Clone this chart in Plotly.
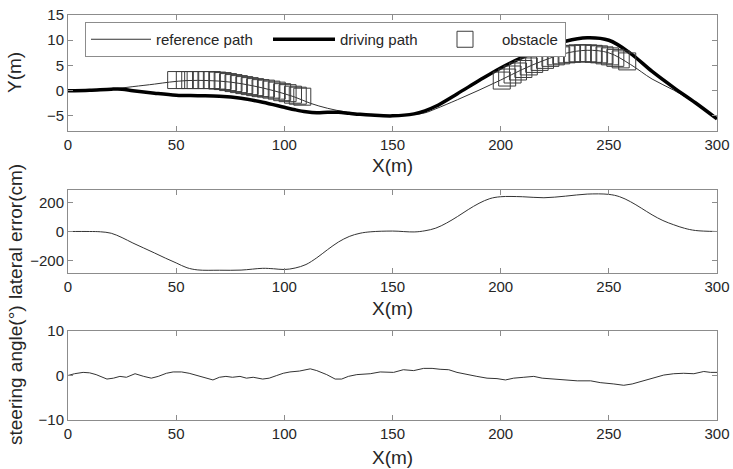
import plotly.graph_objects as go

# ---------------- data ----------------
# top panel: reference path (thin)
ref_x = [0, 10, 20, 30, 40, 47, 55, 65, 75, 85, 95, 105, 112, 120, 128, 135, 140, 150,
         160, 165, 170, 180, 190, 200, 210, 220, 230, 240, 250, 260, 270, 280, 290, 300]
ref_y = [0, 0.1, 0.3, 0.8, 1.3, 1.7, 2.0, 2.0, 1.7, 1.0, 0.0, -1.3, -2.5, -3.5, -4.2, -4.6, -4.8, -5.0,
         -4.7, -4.4, -3.6, -1.8, 0.1, 2.1, 4.2, 6.0, 7.4, 8.0, 7.5, 5.2, 2.3, 0.1, -2.5, -5.6]

# top panel: driving path (thick)
drv_x = [0, 10, 20, 25, 30, 40, 50, 60, 70, 80, 90, 100, 105, 110, 115, 120, 125, 130, 135, 140, 150,
         160, 165, 170, 180, 190, 200, 210, 220, 230, 240, 250, 260, 270, 280, 290, 300]
drv_y = [0, 0.1, 0.3, 0.3, 0.0, -0.5, -0.9, -1.0, -1.1, -1.5, -2.3, -3.3, -3.8, -4.2, -4.4, -4.3, -4.3, -4.5, -4.7, -4.85, -5.0,
         -4.6, -4.0, -3.1, -0.6, 2.0, 4.5, 6.6, 8.3, 9.8, 10.5, 10.0, 7.4, 3.8, 0.6, -2.4, -5.6]

# top panel: obstacle positions (two groups)
obs1_x = [50, 54, 56.5, 59, 61.5, 64, 66.5, 69, 71.5, 74, 76.5, 79, 81.5, 84, 86.5, 89, 91.5, 94,
          96.5, 99, 101.5, 104, 106.2, 108.3]
obs1_y = [2.1, 2.1, 2.1, 2.1, 2.1, 2.1, 2.1, 2.0, 1.9, 1.7, 1.5, 1.3, 1.1, 0.9, 0.7, 0.5, 0.4, 0.2,
          0.0, -0.3, -0.5, -0.8, -1.0, -1.2]
obs2_x = [200.5, 203, 205.5, 208, 210.5, 213, 215.5, 218, 220.5, 223, 225.5, 228, 230.5, 233,
          235.5, 238, 240.5, 243, 245.5, 248, 250.5, 253, 255.5, 258.5]
obs2_y = [2.0, 2.6, 3.2, 3.8, 4.3, 4.8, 5.3, 5.7, 6.1, 6.5, 6.8, 7.0, 7.2, 7.3,
          7.4, 7.4, 7.4, 7.3, 7.2, 7.0, 6.8, 6.5, 6.2, 5.8]

# middle panel: lateral error (cm)
err_x = [0, 10, 15, 20, 25, 30, 35, 40, 45, 50, 55, 60, 70, 80, 90, 95, 100, 105, 110, 115, 120, 125,
         130, 135, 140, 150, 160, 165, 170, 175, 180, 185, 190, 195, 200, 210, 220, 230, 240, 250,
         255, 260, 265, 270, 275, 280, 285, 290, 300]
err_y = [0, 0, -2, -12, -42, -79, -113, -147, -182, -215, -248, -263, -265, -264, -252, -255, -260, -250,
         -226, -180, -124, -72, -34, -12, -2, 3, -3, 5, 23, 58, 102, 150, 193, 225, 238, 238, 231, 242,
         256, 254, 238, 204, 160, 114, 75, 46, 22, 7, 0]

# bottom panel: steering angle (deg)
str_x = [0, 3, 7, 10, 13, 18, 21, 24, 27, 31, 35, 38.5, 41.7, 45.5, 48.6, 52.5, 56, 61, 63, 67, 70,
         73, 76, 79.5, 82.5, 85.6, 90, 93, 96.5, 99.5, 102.6, 107, 112, 115, 119.6, 123.5, 126.5,
         129.6, 133.5, 138, 139.7, 144.3, 150.5, 155, 159.8, 164.4, 168.3, 172, 176, 179.8, 184.5,
         189, 193.7, 198.3, 202.2, 206, 210.7, 215.3, 219.2, 223.8, 229.2, 235.4, 241.6, 246, 252.3,
         256.9, 260.8, 266.2, 270.8, 275.4, 280, 284.6, 289.3, 293.9, 297, 300]
str_y = [0, 0.4, 0.7, 0.6, 0.2, -0.8, -0.6, -0.2, -0.4, 0.4, -0.2, -0.6, -0.2, 0.5, 0.8, 0.8, 0.5,
         -0.2, -0.4, -1.0, -0.4, -0.2, -0.4, -0.2, -0.6, -0.4, -0.8, -0.6, 0.0, 0.5, 0.8, 1.0, 1.5,
         1.1, 0.2, -0.8, -0.8, -0.2, 0.2, 0.4, 0.4, 0.8, 0.7, 1.3, 1.1, 1.6, 1.6, 1.4, 1.3, 0.7, 0.2,
         -0.2, -0.6, -0.7, -1.0, -0.6, -0.4, -0.2, -0.6, -0.8, -1.0, -1.2, -1.2, -1.6, -1.9, -2.2,
         -1.9, -1.2, -0.6, 0.1, 0.4, 0.5, 0.4, 0.9, 0.7, 0.7]

x_ticks = [0, 50, 100, 150, 200, 250, 300]
y1_ticks = [-5, 0, 5, 10, 15]
y2_ticks = [-200, 0, 200]
y3_ticks = [-10, 0, 10]

# ---------------- figure ----------------
FONT = "Liberation Sans, Arial, sans-serif"
W, H = 733, 469
ML, MR, MT, MB = 68, 16, 15, 49
PW, PH = W - ML - MR, H - MT - MB


def px_x(p):  # pixel -> paper x
    return (p - ML) / PW


def px_y(p):  # pixel -> paper y
    return (H - MB - p) / PH


fig = go.Figure()

fig.add_trace(go.Scatter(x=ref_x, y=ref_y, mode="lines", name="reference path", legend="legend",
                         line=dict(color="#333333", width=1, shape="spline"),
                         xaxis="x", yaxis="y"))
fig.add_trace(go.Scatter(x=drv_x, y=drv_y, mode="lines", name="driving path", legend="legend2",
                         line=dict(color="black", width=3.5, shape="spline"),
                         xaxis="x", yaxis="y"))
fig.add_trace(go.Scatter(x=obs1_x + obs2_x, y=obs1_y + obs2_y, mode="markers", name="obstacle",
                         legend="legend3",
                         marker=dict(symbol="square-open", size=17, color="#3c3c3c",
                                     line=dict(width=1, color="#3c3c3c")),
                         xaxis="x", yaxis="y"))
fig.add_trace(go.Scatter(x=err_x, y=err_y, mode="lines", showlegend=False,
                         line=dict(color="#333333", width=1, shape="spline"),
                         xaxis="x2", yaxis="y2"))
fig.add_trace(go.Scatter(x=str_x, y=str_y, mode="lines", showlegend=False,
                         line=dict(color="#333333", width=1),
                         xaxis="x3", yaxis="y3"))

axis_common = dict(showline=True, linecolor="#8c8c8c", linewidth=1, mirror="ticks",
                   ticks="inside", ticklen=5, tickcolor="#8c8c8c", tickwidth=1,
                   showgrid=False, zeroline=False, automargin=False,
                   tickfont=dict(family=FONT, size=15, color="#262626"))

LFONT = dict(family=FONT, size=15, color="#262626")
fig.update_layout(
    width=W, height=H,
    margin=dict(l=ML, r=MR, t=MT, b=MB, autoexpand=False),
    paper_bgcolor="white", plot_bgcolor="white",
    xaxis=dict(domain=[0, 1], range=[0, 300], tickvals=x_ticks, anchor="y", **axis_common),
    yaxis=dict(domain=[px_y(131), 1], range=[-8, 15], tickvals=y1_ticks, anchor="x", **axis_common),
    xaxis2=dict(domain=[0, 1], range=[0, 300], tickvals=x_ticks, anchor="y2", **axis_common),
    yaxis2=dict(domain=[px_y(273), px_y(190)], range=[-284, 284], tickvals=y2_ticks, anchor="x2",
                **axis_common),
    xaxis3=dict(domain=[0, 1], range=[0, 300], tickvals=x_ticks, anchor="y3", **axis_common),
    yaxis3=dict(domain=[0, px_y(331)], range=[-10, 10], tickvals=y3_ticks, anchor="x3", **axis_common),
    # framed legend holding the first entry (its width spans the whole legend box)
    legend=dict(orientation="h", x=px_x(85), y=px_y(22), xanchor="left", yanchor="top",
                bordercolor="#8c8c8c", borderwidth=1, bgcolor="white",
                itemwidth=60, entrywidth=404, font=LFONT),
    legend2=dict(orientation="h", x=px_x(268), y=px_y(23), xanchor="left", yanchor="top",
                 borderwidth=0, bgcolor="rgba(0,0,0,0)", itemwidth=62, font=LFONT),
    legend3=dict(orientation="h", x=px_x(428), y=px_y(23), xanchor="left", yanchor="top",
                 borderwidth=0, bgcolor="rgba(0,0,0,0)", itemwidth=64, font=LFONT),
    showlegend=True,
)

# axis titles
TFONT = dict(family=FONT, size=19, color="#262626")
for ytxt, ycen in [("Y(m)", 73), ("lateral error(cm)", 232), ("steering angle(°)", 375)]:
    fig.add_annotation(text=ytxt, xref="paper", yref="paper",
                       x=px_x(15), y=px_y(ycen),
                       xanchor="center", yanchor="middle", textangle=-90,
                       showarrow=False, font=TFONT)
for ycen in [166, 308, 457]:
    fig.add_annotation(text="X(m)", xref="paper", yref="paper",
                       x=0.5, y=px_y(ycen),
                       xanchor="center", yanchor="middle",
                       showarrow=False, font=TFONT)

fig.write_html("out.html")
